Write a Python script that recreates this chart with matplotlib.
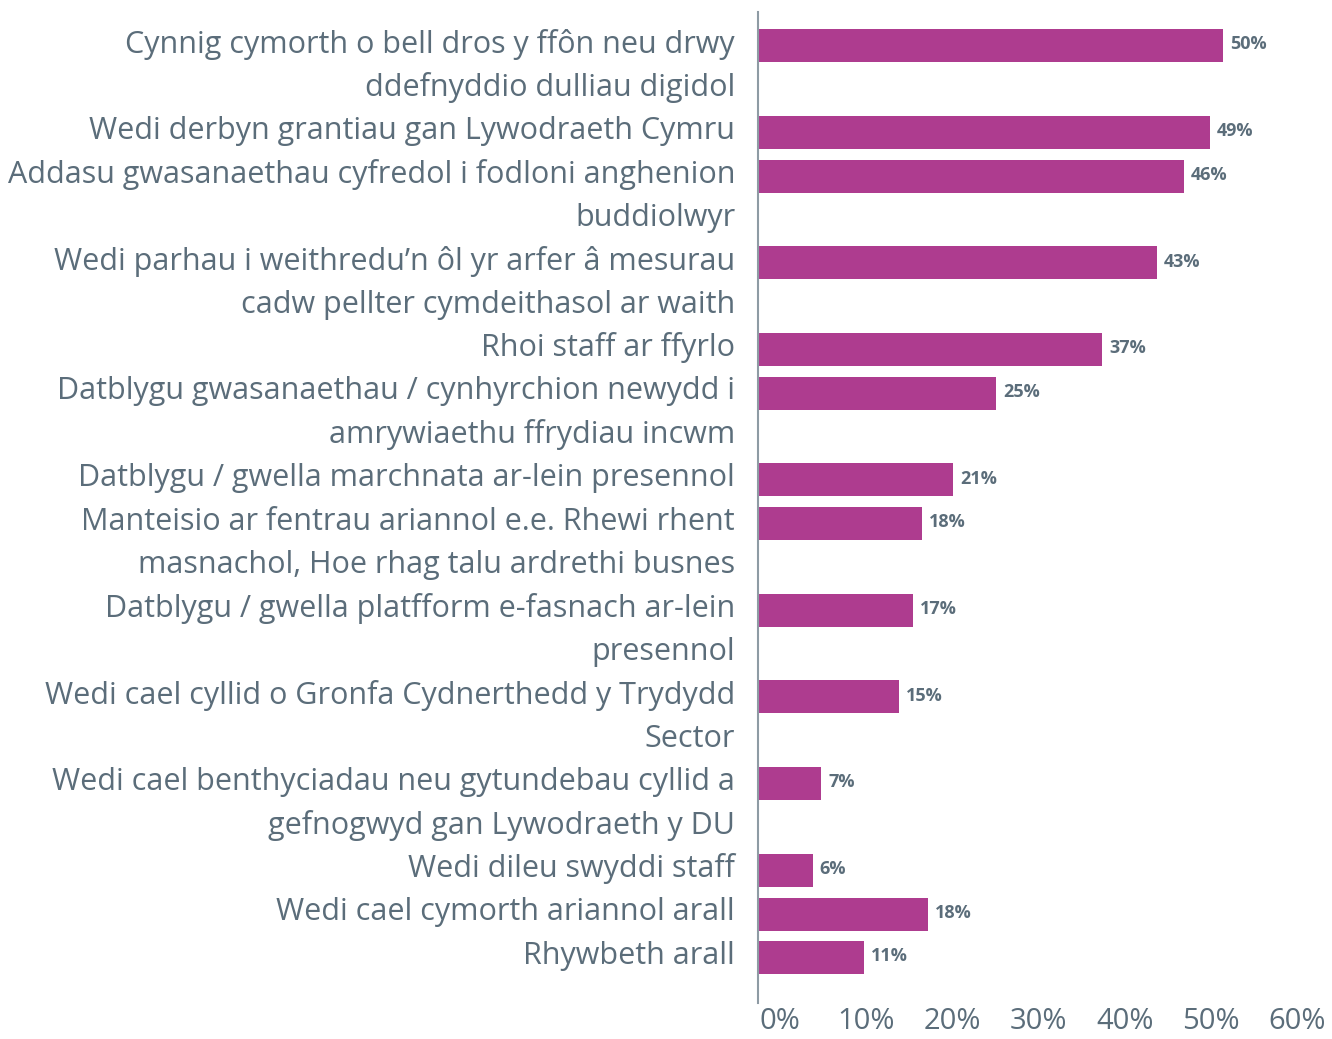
import matplotlib.pyplot as plt
from matplotlib.transforms import ScaledTranslation

# categorias (cada elemento es una linea del texto)
categorias = [
    ['Cynnig cymorth o bell dros y ffôn neu drwy', 'ddefnyddio dulliau digidol'],
    ['Wedi derbyn grantiau gan Lywodraeth Cymru'],
    ['Addasu gwasanaethau cyfredol i fodloni anghenion', 'buddiolwyr'],
    ['Wedi parhau i weithredu’n ôl yr arfer â mesurau', 'cadw pellter cymdeithasol ar waith'],
    ['Rhoi staff ar ffyrlo'],
    ['Datblygu gwasanaethau / cynhyrchion newydd i', 'amrywiaethu ffrydiau incwm'],
    ['Datblygu / gwella marchnata ar-lein presennol'],
    ['Manteisio ar fentrau ariannol e.e. Rhewi rhent', 'masnachol, Hoe rhag talu ardrethi busnes'],
    ['Datblygu / gwella platfform e-fasnach ar-lein', 'presennol'],
    ['Wedi cael cyllid o Gronfa Cydnerthedd y Trydydd', 'Sector'],
    ['Wedi cael benthyciadau neu gytundebau cyllid a', 'gefnogwyd gan Lywodraeth y DU'],
    ['Wedi dileu swyddi staff'],
    ['Wedi cael cymorth ariannol arall'],
    ['Rhywbeth arall'],
]
valores = [50.0, 48.6, 45.8, 42.9, 37.0, 25.6, 21.0, 17.6, 16.7, 15.2, 6.8, 5.9, 18.3, 11.4]
etiquetas = ['50%', '49%', '46%', '43%', '37%', '25%', '21%', '18%', '17%', '15%',
             '7%', '6%', '18%', '11%']
ticks = [0, 10, 20, 30, 40, 50, 60]

morado = '#AE3C8F'
gris = '#5B6D7A'
fuente = 'Open Sans'

# posicion de cada barra = linea donde empieza su etiqueta
pos = []
linea = 0
for c in categorias:
    pos.append(linea)
    linea += len(c)

fig = plt.figure(figsize=(13.32, 10.39), dpi=100)
ax = fig.add_axes([758/1332, 1 - 1003/1039, (1316-758)/1332, (1003-12)/1039])

ax.barh(pos, valores, height=0.76, color=morado)
ax.set_xlim(0, 60)
ax.set_ylim(22.05, -0.78)

for p, v, e in zip(pos, valores, etiquetas):
    ax.annotate(e, xy=(v, p), xytext=(5, 1), textcoords='offset points',
                ha='left', va='center', fontsize=13, fontweight='bold',
                color=gris, family=fuente)

for p, c in zip(pos, categorias):
    for k, txt in enumerate(c):
        ax.annotate(txt, xy=(0, p + k - 0.04), xytext=(-16.5, 0),
                    textcoords='offset points', ha='right', va='center',
                    fontsize=22, color=gris, family=fuente,
                    annotation_clip=False)

for s in ['top', 'right', 'bottom']:
    ax.spines[s].set_visible(False)
ax.spines['left'].set_color('#8E9BA4')
ax.spines['left'].set_linewidth(1.5)
ax.set_yticks([])
ax.set_xticks(ticks)
ax.set_xticklabels([f'{t}%' for t in ticks], fontsize=21, color=gris, family=fuente)
ax.tick_params(axis='x', length=0, pad=3)
# las etiquetas del eje estan un poco desplazadas en el original
for i, lab in enumerate(ax.get_xticklabels()):
    dx = (22 - 41 * i / 6) / 100
    lab.set_transform(lab.get_transform() + ScaledTranslation(dx, 0, fig.dpi_scale_trans))

plt.savefig('out.png', dpi=100)
